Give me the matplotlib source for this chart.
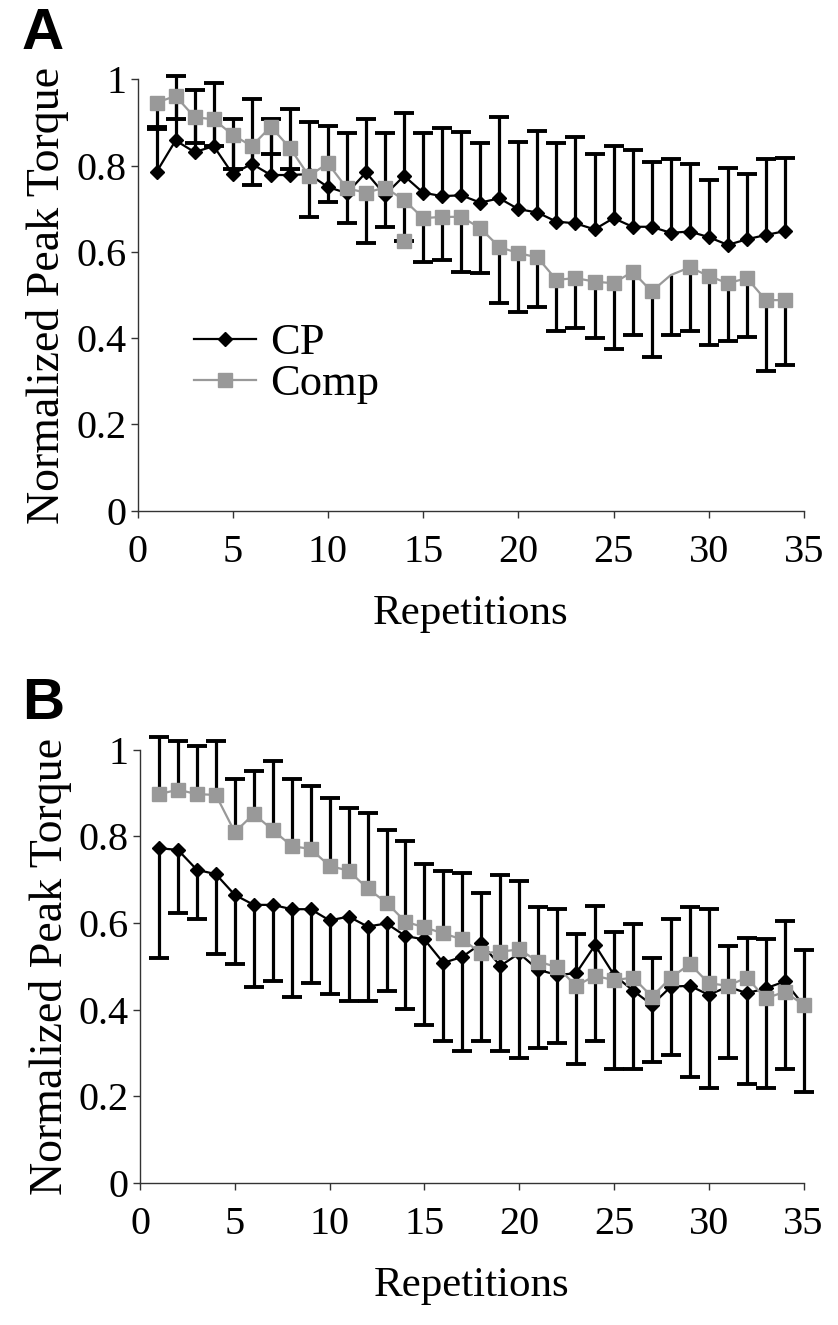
import numpy as np
import matplotlib
matplotlib.use('Agg')
import matplotlib.pyplot as plt

plt.rcParams['font.family'] = ['Liberation Serif', 'DejaVu Serif']

# Panel A data (34 repetitions)
reps_a = np.arange(1, 35)
cp_a = [0.785, 0.858, 0.831, 0.845, 0.780, 0.804, 0.778, 0.778, 0.780, 0.750,
        0.736, 0.784, 0.732, 0.776, 0.737, 0.729, 0.731, 0.714, 0.724, 0.699,
        0.691, 0.670, 0.666, 0.652, 0.678, 0.658, 0.658, 0.644, 0.647, 0.634,
        0.616, 0.629, 0.639, 0.648]
cp_a_err = [0.100, 0.150, 0.143, 0.147, 0.127, 0.150, 0.129, 0.152, 0.122, 0.142,
            0.139, 0.123, 0.143, 0.145, 0.138, 0.159, 0.146, 0.138, 0.188, 0.156,
            0.188, 0.182, 0.199, 0.174, 0.167, 0.178, 0.151, 0.171, 0.156, 0.133,
            0.178, 0.152, 0.176, 0.170]
comp_a = [0.946, 0.961, 0.912, 0.907, 0.871, 0.845, 0.890, 0.841, 0.776, 0.805,
          0.747, 0.737, 0.749, 0.720, 0.678, 0.681, 0.681, 0.655, 0.611, 0.597,
          0.587, 0.535, 0.539, 0.531, 0.527, 0.554, 0.508, 0.546, 0.564, 0.544,
          0.527, 0.539, 0.488, 0.488]
comp_a_err = [0.056, 0.054, 0.060, 0.062, 0.080, 0.090, 0.064, 0.050, 0.095, 0.090,
              0.081, 0.117, 0.091, 0.094, 0.101, 0.100, 0.127, 0.105, 0.129, 0.137,
              0.114, 0.118, 0.116, 0.131, 0.152, 0.147, 0.152, 0.139, 0.147, 0.161,
              0.133, 0.136, 0.164, 0.150]
comp_a_extra_x = [14]
comp_a_extra_y = [0.626]

# Panel B data (35 repetitions)
reps_b = np.arange(1, 36)
cp_b = [0.773, 0.769, 0.723, 0.713, 0.665, 0.642, 0.642, 0.632, 0.632, 0.606,
        0.615, 0.592, 0.599, 0.570, 0.562, 0.508, 0.522, 0.553, 0.501, 0.530,
        0.492, 0.480, 0.484, 0.549, 0.480, 0.444, 0.411, 0.453, 0.455, 0.434,
        0.453, 0.438, 0.449, 0.465, 0.410]
cp_b_err = [0.253, 0.146, 0.114, 0.185, 0.160, 0.189, 0.175, 0.204, 0.170, 0.171,
            0.194, 0.171, 0.155, 0.169, 0.198, 0.181, 0.218, 0.226, 0.197, 0.241,
            0.180, 0.158, 0.210, 0.222, 0.218, 0.182, 0.131, 0.159, 0.210, 0.216,
            0.164, 0.211, 0.231, 0.203, 0.201]
comp_b = [0.898, 0.908, 0.898, 0.896, 0.810, 0.852, 0.815, 0.778, 0.771, 0.732,
          0.721, 0.680, 0.647, 0.603, 0.590, 0.576, 0.562, 0.530, 0.534, 0.539,
          0.511, 0.498, 0.455, 0.478, 0.468, 0.474, 0.430, 0.474, 0.505, 0.461,
          0.455, 0.474, 0.426, 0.441, 0.411]
comp_b_err = [0.131, 0.113, 0.110, 0.125, 0.122, 0.099, 0.160, 0.154, 0.146, 0.156,
              0.146, 0.175, 0.167, 0.187, 0.146, 0.145, 0.154, 0.140, 0.177, 0.158,
              0.127, 0.134, 0.120, 0.161, 0.112, 0.124, 0.090, 0.135, 0.131, 0.171,
              0.093, 0.092, 0.136, 0.164, 0.127]

x_ticks = [0, 5, 10, 15, 20, 25, 30, 35]
y_ticks = [0, 0.2, 0.4, 0.6, 0.8, 1]
y_tick_labels = ['0', '0.2', '0.4', '0.6', '0.8', '1']

GRAY = '#999999'
TICK_FS = 29
XLABEL_FS = 31
YLABEL_FS = 33


def bars(ax, x, y, err, direction):
    y = np.asarray(y)
    err = np.asarray(err)
    end = y + direction * err
    ax.vlines(x, y, end, colors='k', linewidth=2.3, zorder=1, clip_on=False)
    ax.plot(x, end, ls='none', marker='_', ms=15, mew=2.8, color='k',
            zorder=1, clip_on=False)


def style(ax):
    ax.set_xlim(0, 35)
    ax.set_ylim(0, 1)
    ax.set_xticks(x_ticks)
    ax.set_yticks(y_ticks)
    ax.set_yticklabels(y_tick_labels)
    for s in ['top', 'right']:
        ax.spines[s].set_visible(False)
    for s in ['left', 'bottom']:
        ax.spines[s].set_linewidth(1.0)
        ax.spines[s].set_color('#333333')
    ax.tick_params(direction='out', length=5, width=1.0, color='#333333',
                   labelsize=TICK_FS, pad=3)
    ax.tick_params(axis='x', pad=12)
    ax.set_xlabel('Repetitions', fontsize=XLABEL_FS, labelpad=17)
    ax.set_ylabel('Normalized Peak Torque', fontsize=YLABEL_FS, labelpad=5)


fig = plt.figure(figsize=(8.38, 13.25), dpi=100)
axA = fig.add_axes([0.1641, 0.6146, 0.7953, 0.3256])
axB = fig.add_axes([0.1671, 0.1074, 0.7919, 0.3266])

# panel A
bars(axA, reps_a, cp_a, cp_a_err, 1)
bars(axA, reps_a, comp_a, comp_a_err, -1)
lcp, = axA.plot(reps_a, cp_a, color='k', lw=1.6, marker='D', ms=7,
                mfc='k', mec='k', zorder=2, clip_on=False, label='CP')
comp_marks = [i for i in range(len(reps_a)) if reps_a[i] != 28]
lcomp, = axA.plot(reps_a, comp_a, color=GRAY, lw=1.6, marker='s', ms=10,
                  mfc=GRAY, mec=GRAY, markevery=comp_marks, zorder=3,
                  clip_on=False, label='Comp')
axA.plot(comp_a_extra_x, comp_a_extra_y, ls='none', marker='s', ms=10,
         mfc=GRAY, mec=GRAY, zorder=3)
style(axA)
axA.legend(handles=[lcp, lcomp], loc='upper left', bbox_to_anchor=(0.085, 0.435),
           frameon=False, fontsize=32, handlelength=1.4, handletextpad=0.3,
           labelspacing=0.02, borderpad=0, borderaxespad=0)

# panel B
bars(axB, reps_b, cp_b, cp_b_err, -1)
bars(axB, reps_b, comp_b, comp_b_err, 1)
axB.plot(reps_b, cp_b, color='k', lw=1.6, marker='D', ms=7,
         mfc='k', mec='k', zorder=2, clip_on=False)
axB.plot(reps_b, comp_b, color=GRAY, lw=1.6, marker='s', ms=10,
         mfc=GRAY, mec=GRAY, zorder=3, clip_on=False)
style(axB)

fig.text(0.026, 0.995, 'A', fontsize=42, fontweight='bold', va='top',
         family=['Liberation Sans', 'DejaVu Sans'])
fig.text(0.026, 0.489, 'B', fontsize=42, fontweight='bold', va='top',
         family=['Liberation Sans', 'DejaVu Sans'])

fig.savefig('out.png', dpi=100)
